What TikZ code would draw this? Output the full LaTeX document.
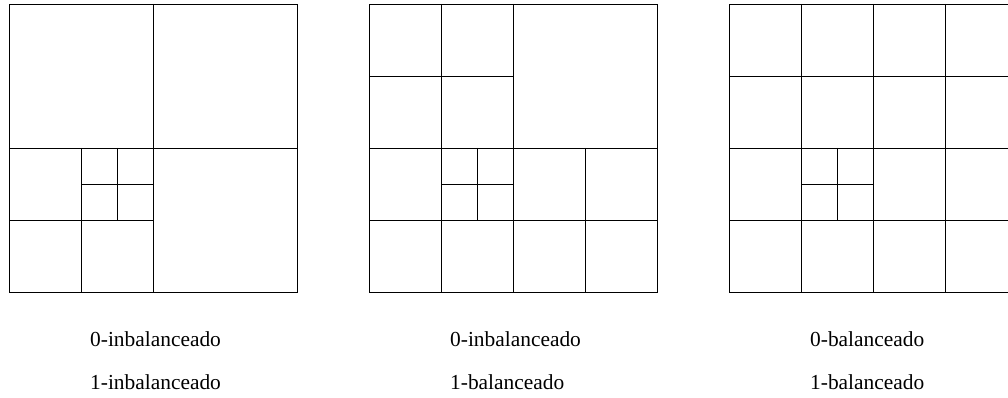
\documentclass[tikz,border=0pt]{standalone}
\usepackage{fontspec}
\setmainfont{Liberation Serif}
\begin{document}
\begin{tikzpicture}[x=1pt,y=-1pt,
  gridline/.style={line width=0.8pt,black},
  lbl/.style={anchor=base west,inner sep=0pt,font=\fontsize{21.4}{24}\selectfont}]
\useasboundingbox (0,0) rectangle (1008,398);
\clip (0,0) rectangle (1008,398);
% ---- square 1 ----
\begin{scope}[shift={(9,4)}]
  \draw[gridline] (0,0) rectangle (288,288);
  \draw[gridline] (144,0) -- (144,288) (0,144) -- (288,144);
  \draw[gridline] (72,144) -- (72,288) (0,216) -- (144,216);
  \draw[gridline] (108,144) -- (108,216) (72,180) -- (144,180);
\end{scope}
% ---- square 2 ----
\begin{scope}[shift={(369,4)}]
  \draw[gridline] (0,0) rectangle (288,288);
  \draw[gridline] (144,0) -- (144,288) (0,144) -- (288,144);
  \draw[gridline] (72,0) -- (72,288) (0,72) -- (144,72);
  \draw[gridline] (216,144) -- (216,288) (0,216) -- (288,216);
  \draw[gridline] (108,144) -- (108,216) (72,180) -- (144,180);
\end{scope}
% ---- square 3 ----
\begin{scope}[shift={(729,4)}]
  \draw[gridline] (0,0) rectangle (288,288);
  \draw[gridline] (72,0) -- (72,288) (144,0) -- (144,288) (216,0) -- (216,288);
  \draw[gridline] (0,72) -- (288,72) (0,144) -- (288,144) (0,216) -- (288,216);
  \draw[gridline] (108,144) -- (108,216) (72,180) -- (144,180);
\end{scope}
% ---- labels ----
\node[lbl] (a0) at (90,346.7) {0-inbalanceado};
\node[lbl] (a1) at (90,389.5) {1-inbalanceado};
\node[lbl] (b0) at (450,346.7) {0-inbalanceado};
\node[lbl] (b1) at (450,389.5) {1-balanceado};
\node[lbl] (c0) at (810,346.7) {0-balanceado};
\node[lbl] (c1) at (810,389.5) {1-balanceado};
\end{tikzpicture}
\end{document}
